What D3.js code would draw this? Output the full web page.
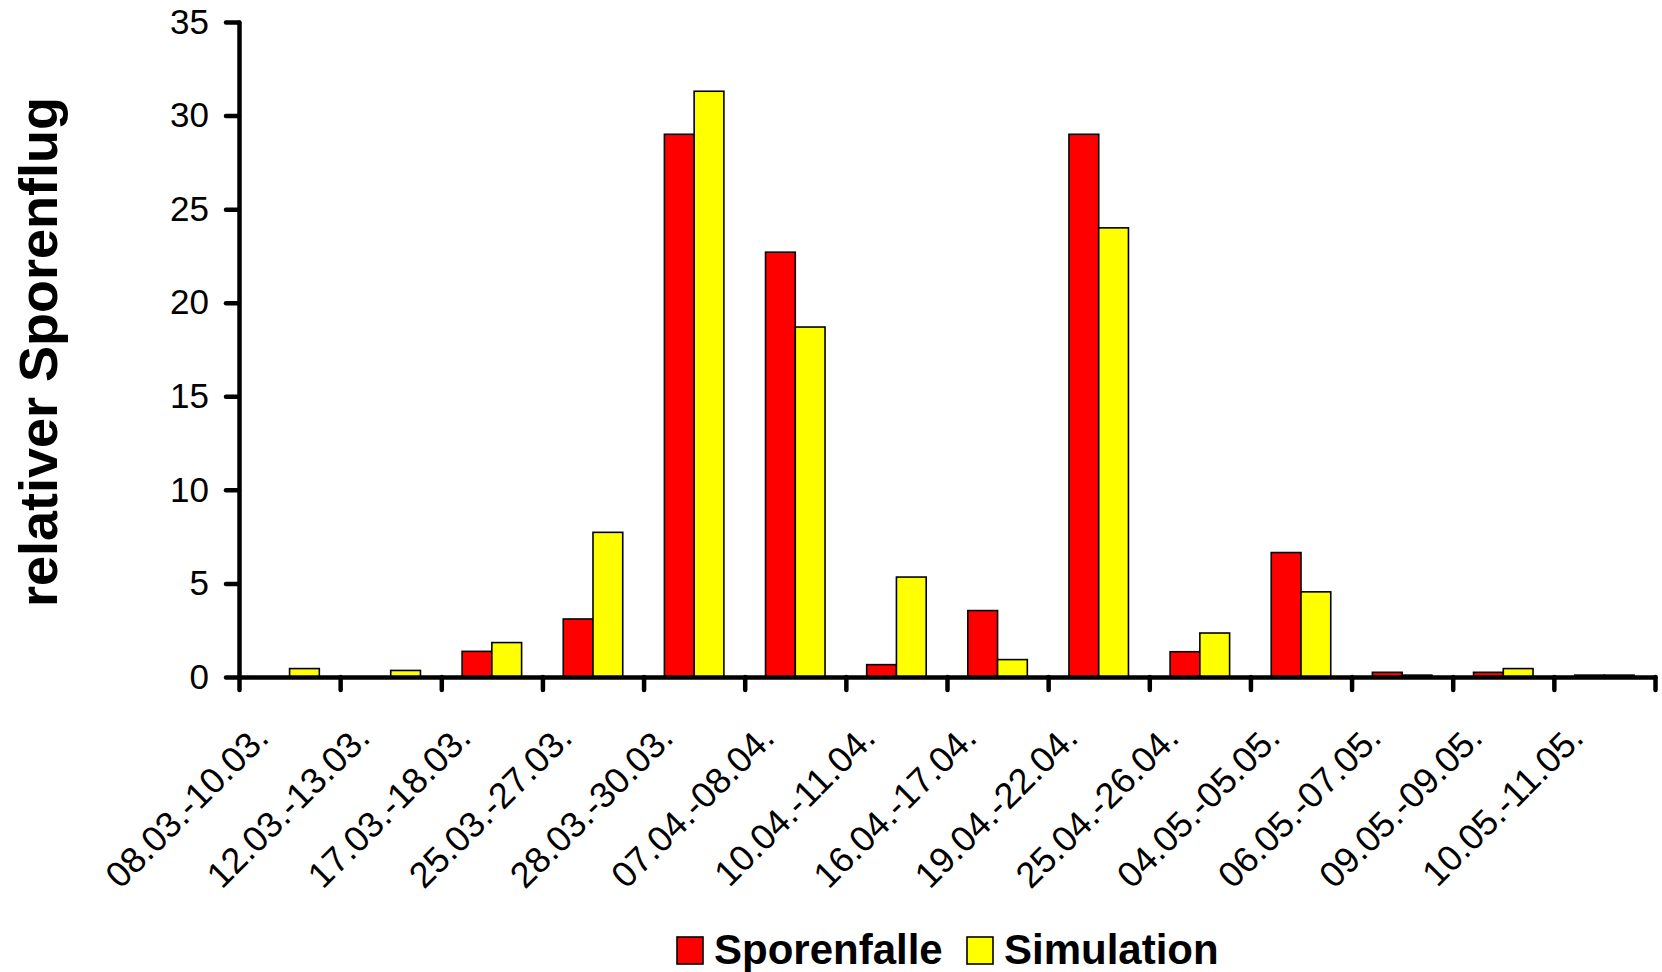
<!DOCTYPE html>
<html>
<head>
<meta charset="utf-8">
<script src="https://cdn.jsdelivr.net/npm/d3@7"></script>
<style>
    body { margin: 0; background: #fff; }
    svg { display: block; font-family: "Liberation Sans", Arial, sans-serif; }
</style>
</head>
<body>
<div class="chart"></div>
<script>
    var categories = ["08.03.-10.03.", "12.03.-13.03.", "17.03.-18.03.", "25.03.-27.03.", "28.03.-30.03.",
        "07.04.-08.04.", "10.04.-11.04.", "16.04.-17.04.", "19.04.-22.04.", "25.04.-26.04.",
        "04.05.-05.05.", "06.05.-07.05.", "09.05.-09.05.", "10.05.-11.05."];
    var sporenfalle = [0, 0, 1.37, 3.1, 29.0, 22.7, 0.66, 3.55, 29.0, 1.35, 6.65, 0.25, 0.25, 0.1];
    var simulation = [0.45, 0.35, 1.84, 7.73, 31.3, 18.7, 5.34, 0.93, 24.0, 2.35, 4.55, 0.1, 0.45, 0.1];
    var seriesNames = ["Sporenfalle", "Simulation"];
    var seriesColors = ["#ff0000", "#ffff00"];
    var yTicks = [0, 5, 10, 15, 20, 25, 30, 35];

(function() {
    var width = 1662, height = 972;
    var plotLeft = 239, plotRight = 1655, plotTop = 22, plotBottom = 677;

    var svg = d3.select(".chart").append("svg")
        .attr("width", width)
        .attr("height", height);

    var x = d3.scaleBand().domain(categories).range([plotLeft, plotRight]);
    var xSub = d3.scaleBand().domain(seriesNames).range([0, x.bandwidth()]).paddingOuter(0.7);
    var xTick = d3.scaleLinear().domain([0, categories.length]).range([plotLeft, plotRight]);
    var y = d3.scaleLinear().domain([0, 35]).range([plotBottom, plotTop]);
    var color = d3.scaleOrdinal().domain(seriesNames).range(seriesColors);

    var rows = categories.map(function(c, i) {
        return {cat: c, values: [
            {name: "Sporenfalle", value: sporenfalle[i]},
            {name: "Simulation", value: simulation[i]}
        ]};
    });

    // bars
    var groups = svg.append("g").classed("bars", true)
        .selectAll("g")
        .data(rows)
        .enter()
        .append("g")
            .attr("transform", function(d) { return "translate(" + x(d.cat) + ",0)"; });

    groups.selectAll("rect")
        .data(function(d) { return d.values.filter(function(v) { return v.value > 0; }); })
        .enter()
        .append("rect")
            .attr("x", function(d) { return xSub(d.name); })
            .attr("width", xSub.bandwidth())
            .attr("y", function(d) { return y(d.value); })
            .attr("height", function(d) { return y(0) - y(d.value); })
            .style("fill", function(d) { return color(d.name); })
            .style("stroke", "#000")
            .style("stroke-width", 1.6);

    // y axis
    var yAxis = svg.append("g")
        .attr("transform", "translate(" + plotLeft + ",0)")
        .call(d3.axisLeft(y).tickValues(yTicks).tickSize(13).tickSizeOuter(0).tickPadding(17));
    yAxis.selectAll("text")
        .style("font-size", "35px")
        .style("font-family", "'Liberation Sans', Arial, sans-serif")
        .attr("fill", "#000");

    // x axis, ticks sit between the categories
    svg.append("g")
        .attr("transform", "translate(0," + plotBottom + ")")
        .call(d3.axisBottom(xTick).tickValues(d3.range(categories.length + 1)).tickFormat("").tickSize(13).tickSizeOuter(0));

    svg.selectAll(".domain, .tick line")
        .attr("stroke", "#000")
        .attr("stroke-width", 4.5)
        .attr("stroke-linecap", "round");

    svg.append("g").classed("x-labels", true)
        .selectAll("text")
        .data(categories)
        .enter()
        .append("text")
            .attr("transform", function(d) {
                return "translate(" + (x(d) + x.bandwidth() / 2 - 19) + "," + (plotBottom + 63) + ") rotate(-45)";
            })
            .attr("text-anchor", "end")
            .style("font-size", "36px")
            .text(function(d) { return d; });

    // y label
    svg.append("text")
        .attr("transform", "translate(57,352) rotate(-90)")
        .attr("text-anchor", "middle")
        .style("font-size", "54px")
        .style("font-weight", "bold")
        .text("relativer Sporenflug");

    // legend
    var legend = svg.append("g").classed("legend", true)
        .attr("transform", "translate(677,937)");
    var legendX = [0, 290];
    var items = legend.selectAll("g")
        .data(seriesNames)
        .enter()
        .append("g")
            .attr("transform", function(d, i) { return "translate(" + legendX[i] + ",0)"; });
    items.append("rect")
        .attr("width", 26)
        .attr("height", 27)
        .style("fill", function(d) { return color(d); })
        .style("stroke", "#000")
        .style("stroke-width", 1.6);
    items.append("text")
        .attr("x", 37)
        .attr("y", 27)
        .style("font-size", "42px")
        .style("font-weight", "bold")
        .text(function(d) { return d; });
})();
</script>
</body>
</html>
